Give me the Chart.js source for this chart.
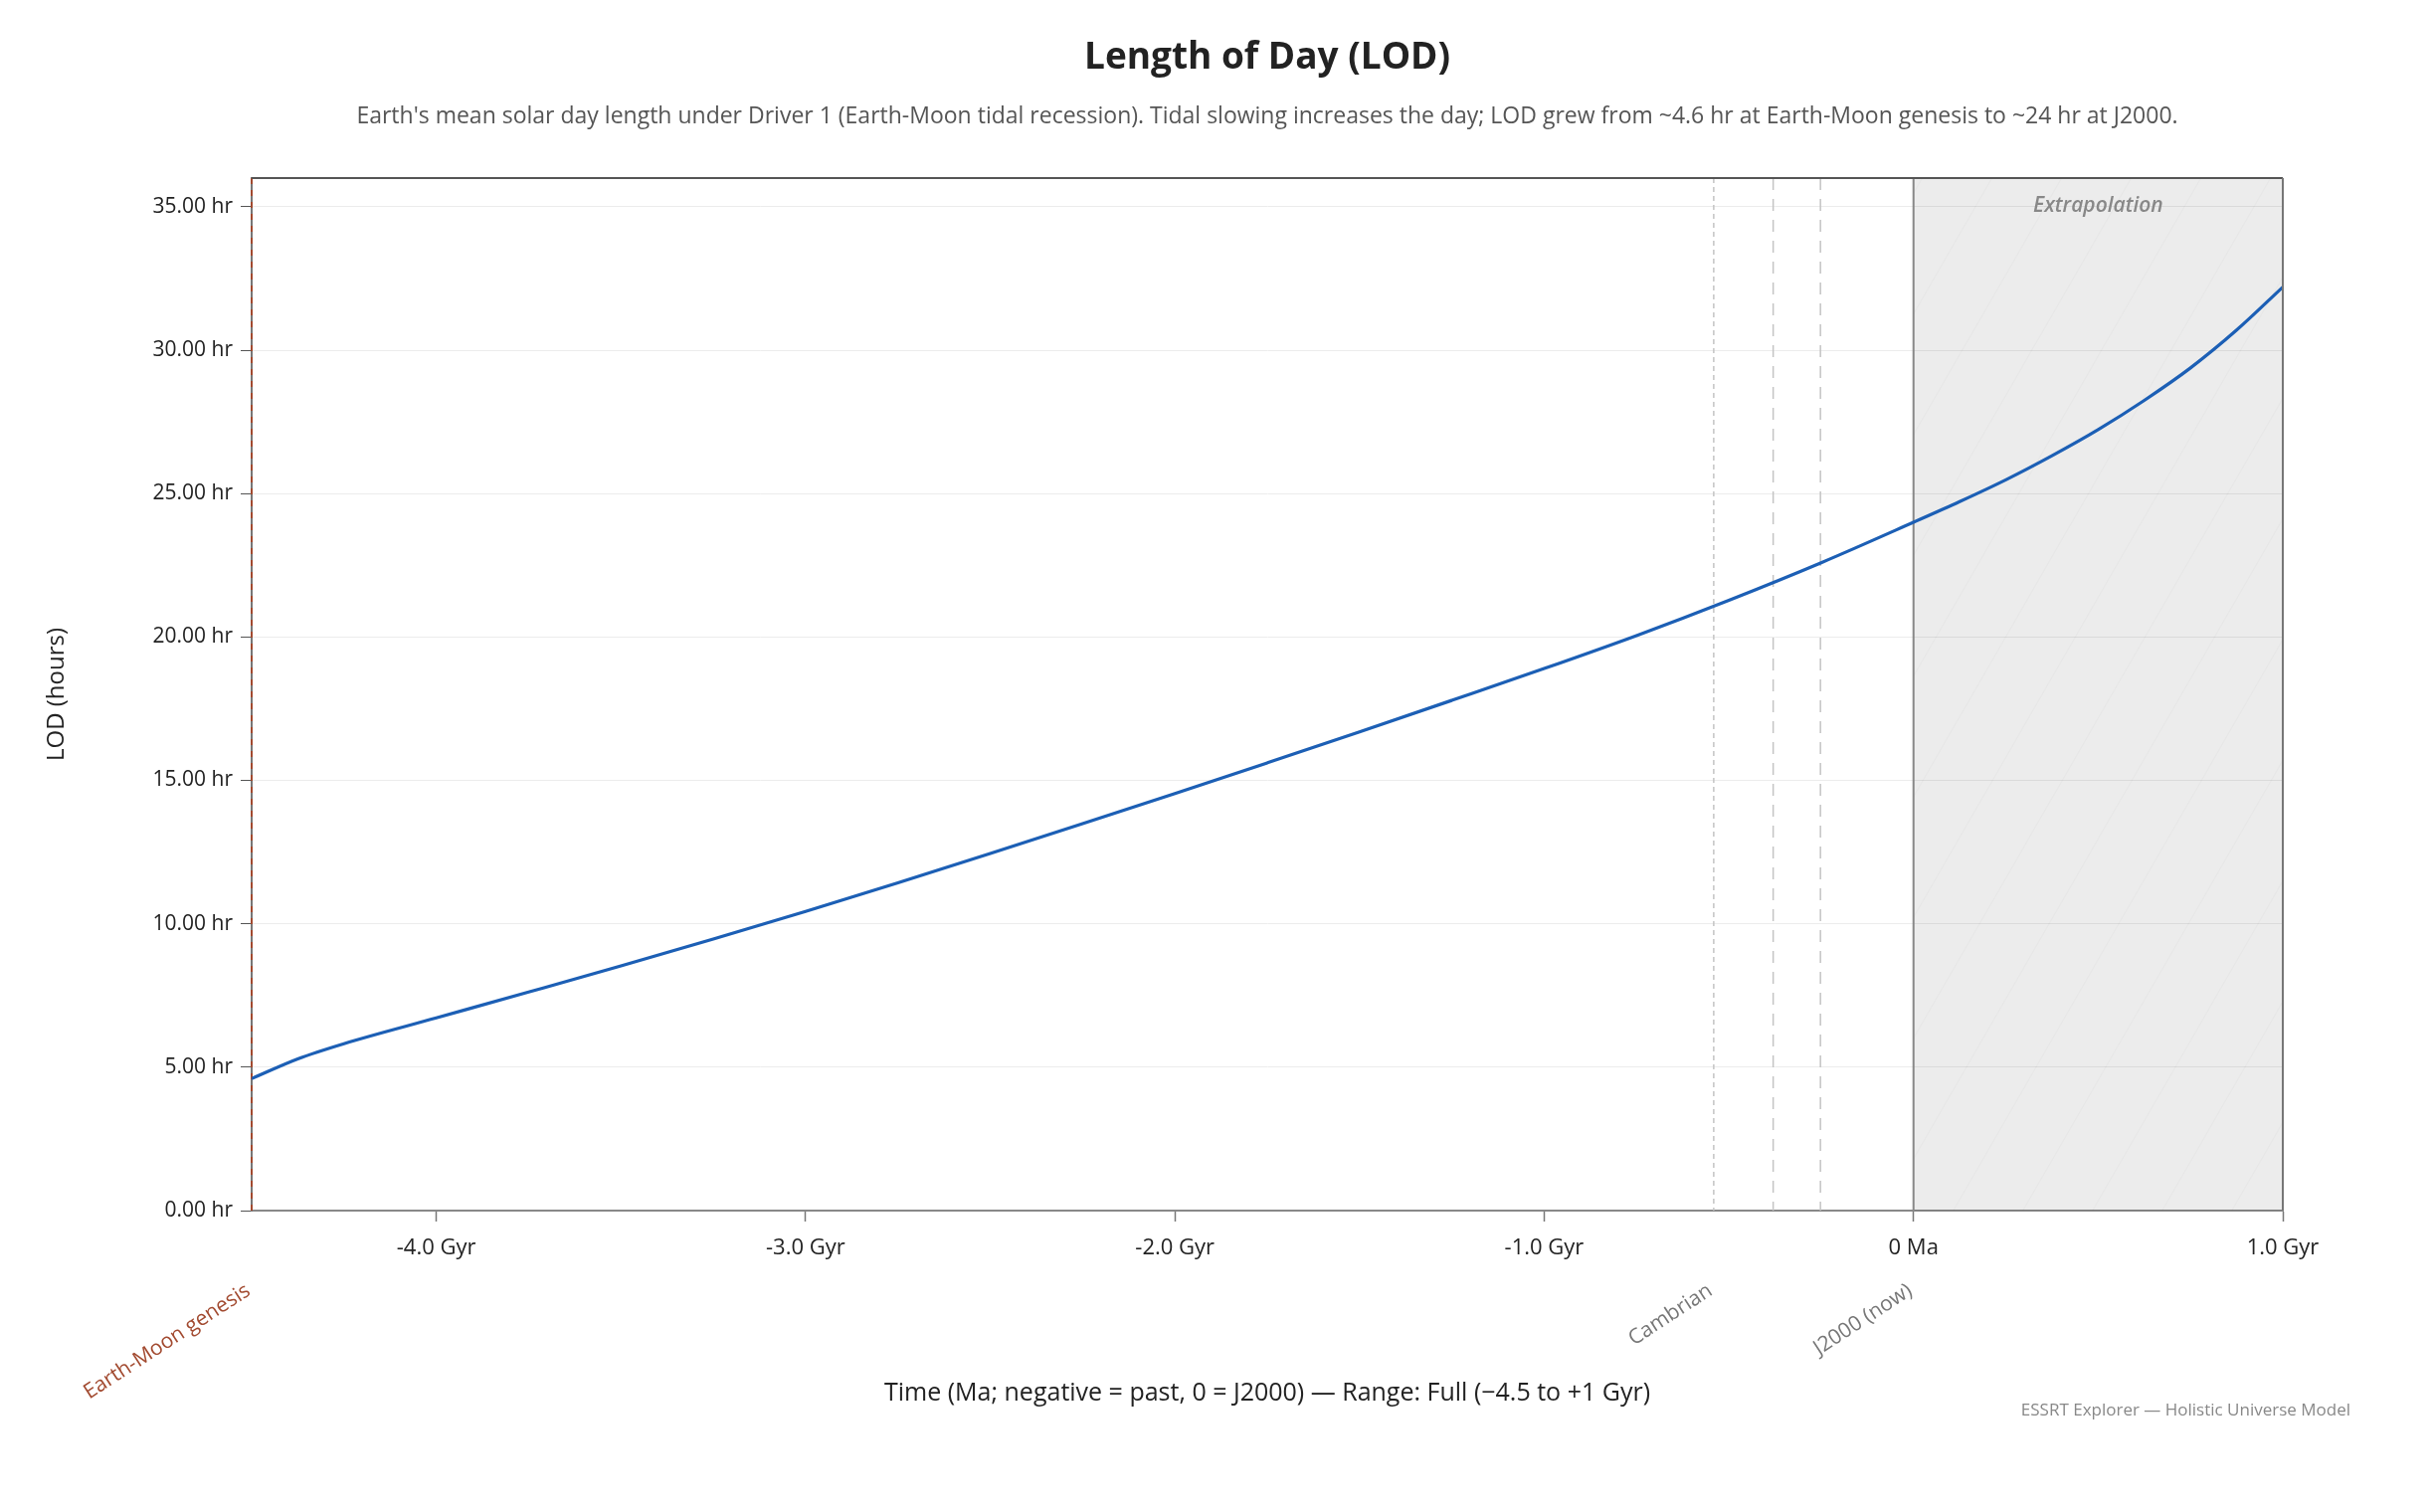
<!DOCTYPE html>
<html>
<head>
<meta charset="utf-8">
<script src="https://cdn.jsdelivr.net/npm/chart.js@4.4.1/dist/chart.umd.min.js"></script>
<style>
  html, body { margin: 0; padding: 0; background: #fff; }
  #wrap { width: 2446px; height: 1520px; }
</style>
</head>
<body>
<div id="wrap"><canvas id="lodChart"></canvas></div>
<script>
// time in Ma (negative = past), LOD in hours
const timeMa = [-4500, -4375, -4250, -4000, -3750, -3500, -3250, -3000, -2750, -2500, -2250, -2000,
                -1750, -1500, -1250, -1000, -750, -500, -250, 0, 125, 250, 375, 500, 625, 750, 875, 1000];
const lodHours = [4.60, 5.29, 5.82, 6.72, 7.62, 8.53, 9.47, 10.43, 11.43, 12.45, 13.49, 14.54,
                  15.61, 16.69, 17.79, 18.90, 20.05, 21.28, 22.59, 24.00, 24.72, 25.48, 26.32, 27.23, 28.25, 29.38, 30.70, 32.20];

const xTickValues = [-4000, -3000, -2000, -1000, 0, 1000];
const yTickValues = [0, 5, 10, 15, 20, 25, 30, 35];

const markerTimes = [-4500, -541, -380, -252];
const markerLabels = ['Earth-Moon genesis', 'Cambrian', '', ''];
const nowTime = 0;
const nowLabel = 'J2000 (now)';
const extrapStart = 0;
const extrapEnd = 1000;

const FONT = "'Open Sans', 'Noto Sans', sans-serif";

const overlays = {
  id: 'overlays',
  beforeDatasetsDraw(chart) {
    const { ctx, chartArea: a, scales: { x } } = chart;
    const x0 = x.getPixelForValue(extrapStart);
    const x1 = x.getPixelForValue(extrapEnd);
    ctx.save();
    // extrapolation band
    ctx.fillStyle = 'rgba(0,0,0,0.075)';
    ctx.fillRect(x0, a.top, x1 - x0, a.bottom - a.top);
    ctx.beginPath();
    ctx.rect(x0, a.top, x1 - x0, a.bottom - a.top);
    ctx.clip();
    ctx.strokeStyle = 'rgba(0,0,0,0.025)';
    ctx.lineWidth = 1.5;
    for (let s = x0 - 800; s < x1 + 100; s += 70) {
      ctx.beginPath();
      ctx.moveTo(s, a.bottom);
      ctx.lineTo(s + 600, a.bottom - 1040);
      ctx.stroke();
    }
    ctx.restore();

    ctx.save();
    // era markers
    markerTimes.forEach((t, i) => {
      const px = x.getPixelForValue(t);
      if (i === 0) {
        ctx.strokeStyle = '#a24a30';
        ctx.lineWidth = 2;
        ctx.setLineDash([6, 6]);
      } else {
        ctx.strokeStyle = '#c4c4c4';
        ctx.lineWidth = 1.5;
        ctx.setLineDash(i === 1 ? [5, 4] : [12, 9]);
      }
      ctx.beginPath();
      ctx.moveTo(px, a.top);
      ctx.lineTo(px, a.bottom);
      ctx.stroke();
    });
    ctx.setLineDash([]);
    // J2000 / extrapolation boundary
    ctx.strokeStyle = '#888';
    ctx.lineWidth = 2;
    ctx.beginPath();
    ctx.moveTo(x.getPixelForValue(nowTime), a.top);
    ctx.lineTo(x.getPixelForValue(nowTime), a.bottom);
    ctx.stroke();
    ctx.restore();
  },
  afterDraw(chart) {
    const { ctx, chartArea: a, scales: { x } } = chart;
    ctx.save();
    // plot frame (top, right)
    ctx.strokeStyle = '#555';
    ctx.lineWidth = 2;
    ctx.beginPath();
    ctx.moveTo(a.left, a.top);
    ctx.lineTo(a.right, a.top);
    ctx.stroke();
    ctx.strokeStyle = '#777';
    ctx.beginPath();
    ctx.moveTo(a.right, a.top);
    ctx.lineTo(a.right, a.bottom);
    ctx.stroke();

    // extrapolation label
    ctx.fillStyle = '#888';
    ctx.font = 'italic 600 21px ' + FONT;
    ctx.textAlign = 'center';
    ctx.textBaseline = 'middle';
    ctx.fillText('Extrapolation', (x.getPixelForValue(extrapStart) + x.getPixelForValue(extrapEnd)) / 2, a.top + 28);

    // rotated marker labels
    const labelY = 1287;
    const drawRot = (t, text, color) => {
      if (!text) return;
      ctx.save();
      ctx.translate(x.getPixelForValue(t) - 9, labelY);
      ctx.rotate(-33 * Math.PI / 180);
      ctx.fillStyle = color;
      ctx.font = '21px ' + FONT;
      ctx.textAlign = 'right';
      ctx.textBaseline = 'top';
      ctx.fillText(text, 0, 0);
      ctx.restore();
    };
    markerTimes.forEach((t, i) => drawRot(t, markerLabels[i], i === 0 ? '#a24a30' : '#777'));
    drawRot(nowTime, nowLabel, '#777');

    // footer
    ctx.fillStyle = '#888';
    ctx.font = '17px ' + FONT;
    ctx.textAlign = 'right';
    ctx.textBaseline = 'middle';
    ctx.fillText('ESSRT Explorer \u2014 Holistic Universe Model', 2363, 1418);
    ctx.restore();
  }
};

new Chart(document.getElementById('lodChart'), {
  type: 'line',
  data: {
    datasets: [{
      label: 'LOD',
      data: timeMa.map((t, i) => ({ x: t, y: lodHours[i] })),
      borderColor: '#1c5fb5',
      borderWidth: 3.2,
      pointRadius: 0,
      fill: false,
      cubicInterpolationMode: 'monotone'
    }]
  },
  options: {
    responsive: true,
    maintainAspectRatio: false,
    animation: false,
    layout: { padding: { left: 0, right: 151, top: 0, bottom: 0 } },
    plugins: {
      legend: { display: false },
      tooltip: { enabled: false },
      title: {
        display: true,
        fullSize: false,
        text: 'Length of Day (LOD)',
        color: '#222',
        font: { family: FONT, size: 37, weight: 'bold' },
        padding: { top: 36, bottom: 10 }
      },
      subtitle: {
        display: true,
        fullSize: false,
        text: "Earth's mean solar day length under Driver 1 (Earth-Moon tidal recession). Tidal slowing increases the day; LOD grew from ~4.6 hr at Earth-Moon genesis to ~24 hr at J2000.",
        color: '#555',
        font: { family: FONT, size: 23 },
        padding: { top: 13, bottom: 48 }
      }
    },
    scales: {
      x: {
        type: 'linear',
        min: -4500,
        max: 1000,
        afterBuildTicks: s => { s.ticks = xTickValues.map(v => ({ value: v })); },
        afterFit: s => { s.height = 303; },
        grid: { drawOnChartArea: false, drawTicks: true, tickLength: 11, tickColor: '#777', tickWidth: 1.5 },
        border: { display: true, color: '#888', width: 2 },
        ticks: {
          color: '#222',
          padding: 14,
          maxRotation: 0,
          font: { family: FONT, size: 22 },
          callback: v => v === 0 ? '0 Ma' : (v / 1000).toFixed(1) + ' Gyr'
        },
        title: {
          display: true,
          text: 'Time (Ma; negative = past, 0 = J2000) \u2014 Range: Full (\u22124.5 to +1 Gyr)',
          color: '#222',
          font: { family: FONT, size: 25 },
          padding: { top: 0, bottom: 104 }
        }
      },
      y: {
        min: 0,
        max: 36,
        afterBuildTicks: s => { s.ticks = yTickValues.map(v => ({ value: v })); },
        afterFit: s => { s.width = 253; },
        grid: { color: '#ececec', lineWidth: 1, drawTicks: true, tickLength: 11, tickColor: '#555' },
        border: { display: true, color: '#777', width: 2 },
        ticks: {
          color: '#222',
          padding: 8,
          font: { family: FONT, size: 21 },
          callback: v => v.toFixed(2) + ' hr'
        },
        title: {
          display: true,
          text: 'LOD (hours)',
          color: '#222',
          font: { family: FONT, size: 24 },
          padding: { top: 43, bottom: 0 }
        }
      }
    }
  },
  plugins: [overlays]
});
</script>
</body>
</html>
